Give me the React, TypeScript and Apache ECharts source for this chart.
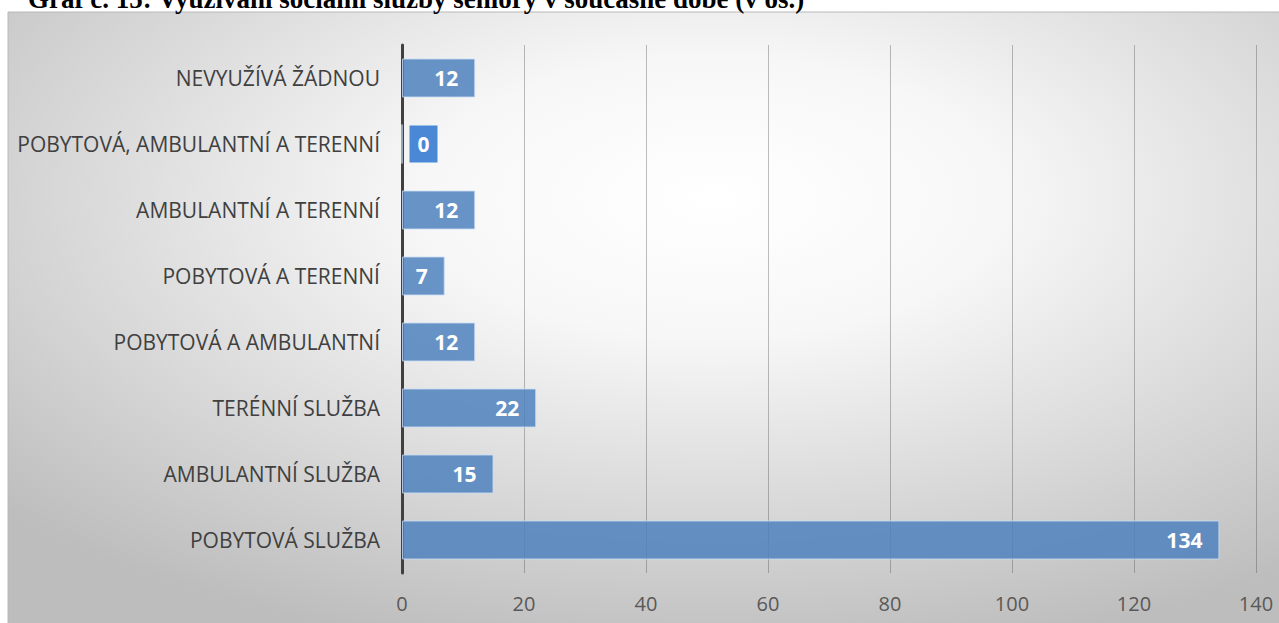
import React, { useEffect, useRef } from "react";
import * as echarts from "echarts";

const categories = [
  "POBYTOVÁ SLUŽBA",
  "AMBULANTNÍ SLUŽBA",
  "TERÉNNÍ SLUŽBA",
  "POBYTOVÁ A AMBULANTNÍ",
  "POBYTOVÁ A TERENNÍ",
  "AMBULANTNÍ A TERENNÍ",
  "POBYTOVÁ, AMBULANTNÍ A TERENNÍ",
  "NEVYUŽÍVÁ ŽÁDNOU",
];
const values = [134, 15, 22, 12, 7, 12, 0, 12];
const xTicks = [0, 20, 40, 60, 80, 100, 120, 140];
const titleText = "Graf č. 15: Využívání sociální služby seniory v současné době (v os.)";

export default function App() {
  const ref = useRef<HTMLDivElement>(null);
  useEffect(() => {
    document.body.style.margin = "0";
    const chart = echarts.init(ref.current!, null, { renderer: "svg" });
    const font = "'Open Sans', Lato, sans-serif";
    chart.setOption({
      animation: false,
      graphic: [
        {
          type: "rect",
          z: -10,
          silent: true,
          shape: { x: 8, y: 12, width: 1280, height: 620 },
          style: {
            fill: new echarts.graphic.RadialGradient(0.55, 0.3, 0.75, [
              { offset: 0, color: "#ffffff" },
              { offset: 0.3, color: "#f7f7f7" },
              { offset: 1, color: "#bdbdbd" },
            ]),
            stroke: "#b8b8b8",
            lineWidth: 1,
          },
        },
        {
          type: "text",
          x: 28,
          y: -1,
          silent: true,
          style: {
            text: titleText,
            font: "bold 27px 'Liberation Serif', 'Times New Roman', serif",
            fill: "#000",
            verticalAlign: "middle",
          },
        },
      ],
      grid: { left: 402, right: 23, top: 45, bottom: 50, containLabel: false },
      xAxis: {
        type: "value",
        min: 0,
        max: 140,
        interval: 20,
        axisLine: { show: false },
        axisTick: { show: false },
        axisLabel: {
          color: "#595959",
          fontSize: 20,
          fontFamily: font,
          margin: 20,
          formatter: (v: number) => (xTicks.includes(v) ? String(v) : ""),
        },
        splitLine: { show: true, lineStyle: { color: "rgba(70,70,70,0.35)", width: 1 } },
      },
      yAxis: {
        type: "category",
        data: categories,
        axisLine: { show: true, lineStyle: { color: "#404040", width: 3 } },
        axisTick: { show: false },
        axisLabel: { color: "#404040", fontSize: 21, fontFamily: font, margin: 22 },
      },
      series: [
        {
          type: "bar",
          barCategoryGap: "41%",
          data: values.map((v) =>
            v === 0
              ? {
                  value: v,
                  label: {
                    position: "right",
                    distance: 7,
                    backgroundColor: "#4a88d6",
                    padding: [8, 8, 8, 8],
                  },
                }
              : v
          ),
          itemStyle: {
            color: "rgba(79,129,189,0.85)",
            borderColor: "rgba(200,220,245,0.8)",
            borderWidth: 1,
          },
          label: {
            show: true,
            position: "insideRight",
            distance: 17,
            color: "#ffffff",
            fontWeight: "bold",
            fontSize: 21,
            fontFamily: font,
          },
        },
      ],
    });
    return () => chart.dispose();
  }, []);
  return <div ref={ref} style={{ width: 1279, height: 623 }} />;
}
